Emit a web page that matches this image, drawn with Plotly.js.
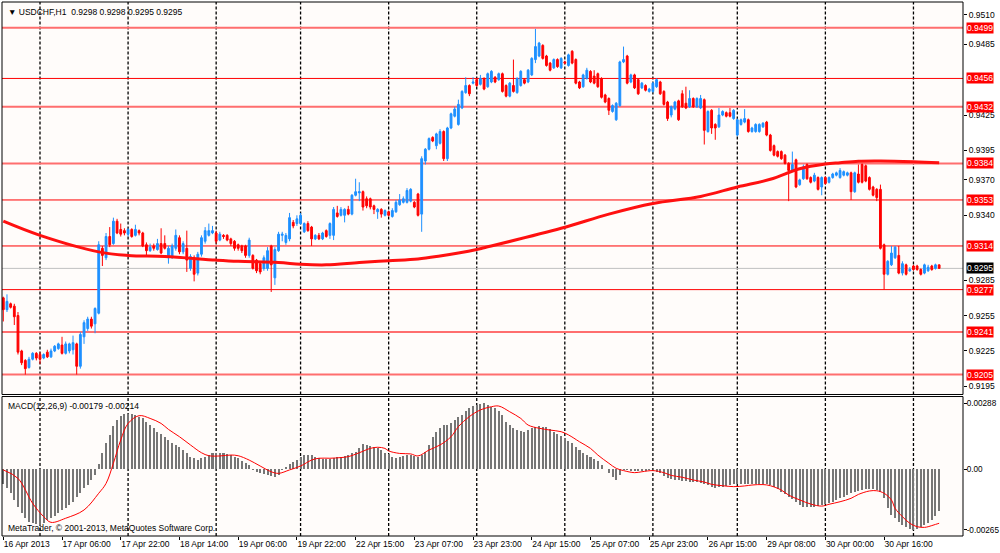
<!DOCTYPE html>
<html><head><meta charset="utf-8">
<script src="https://cdn.plot.ly/plotly-3.0.1.min.js"></script>
<style>html,body{margin:0;padding:0;background:#fff}#chart{width:1000px;height:553px}</style>
</head><body><div id="chart"></div>
<script>
// ---- price data (pips, /10000) bar index 0..255, H1 bars from 16 Apr 2013 14:00
const openP = [9270,9260,9265,9263,9255,9225,9217,9211,9218,9223,9222,9219,9224,9220,9225,9227,9230,9223,9225,9226,
9231,9212,9237,9244,9252,9248,9257,9312,9304,9322,9316,9335,9328,9327,9324,9328,9323,9327,9325,9315,
9310,9314,9311,9316,9316,9304,9305,9312,9321,9309,9312,9295,9304,9291,9307,9318,9323,9325,9325,9319,
9323,9323,9320,9318,9315,9314,9314,9306,9306,9302,9299,9295,9295,9314,9287,9310,9323,9317,9320,9334,
9333,9333,9326,9333,9330,9320,9323,9320,9327,9323,9323,9342,9340,9340,9345,9341,9357,9359,9360,9354,
9354,9348,9343,9345,9340,9343,9339,9343,9349,9351,9351,9352,9351,9358,9341,9386,9396,9406,9399,9401,
9411,9388,9414,9424,9417,9431,9444,9450,9452,9455,9451,9456,9449,9453,9457,9455,9460,9450,9441,9450,
9444,9450,9455,9453,9459,9472,9475,9484,9475,9469,9465,9472,9465,9470,9467,9479,9472,9453,9449,9456,
9462,9458,9460,9456,9442,9439,9428,9421,9433,9470,9475,9453,9459,9455,9448,9450,9445,9445,9449,9453,
9445,9436,9425,9430,9437,9443,9435,9432,9439,9432,9431,9438,9411,9429,9417,9415,9425,9427,9427,9422,
9408,9417,9419,9421,9411,9411,9411,9415,9419,9408,9399,9394,9394,9391,9384,9378,9387,9366,9371,9383,
9372,9369,9372,9364,9372,9368,9372,9374,9372,9374,9374,9376,9360,9375,9383,9382,9372,9364,9362,9362,
9315,9290,9298,9304,9306,9291,9298,9293,9297,9297,9294,9291,9293,9297,9295,9298];
const highP = [9271,9273,9266,9265,9258,9226,9218,9220,9224,9224,9224,9223,9226,9227,9230,9232,9237,9233,9232,9238,
9232,9241,9251,9254,9254,9262,9318,9314,9325,9330,9338,9337,9333,9329,9329,9329,9332,9328,9326,9317,
9316,9316,9320,9329,9323,9314,9316,9328,9323,9318,9327,9307,9306,9309,9323,9330,9333,9331,9327,9326,
9324,9324,9321,9319,9316,9315,9315,9321,9307,9303,9300,9306,9313,9315,9313,9326,9326,9325,9342,9336,
9340,9342,9334,9335,9331,9324,9325,9326,9328,9334,9347,9348,9347,9346,9348,9358,9371,9368,9361,9356,
9355,9349,9346,9346,9345,9344,9346,9353,9358,9356,9363,9363,9352,9359,9390,9397,9406,9407,9410,9413,
9412,9415,9427,9432,9438,9446,9457,9451,9457,9456,9459,9457,9461,9463,9458,9461,9461,9451,9453,9472,
9457,9463,9456,9464,9474,9498,9487,9485,9476,9470,9473,9473,9474,9471,9477,9480,9473,9454,9460,9465,
9463,9463,9461,9457,9443,9440,9434,9436,9471,9483,9476,9460,9460,9456,9453,9451,9448,9453,9456,9454,
9446,9437,9433,9437,9438,9446,9449,9446,9440,9440,9442,9439,9429,9430,9418,9431,9429,9428,9431,9430,
9422,9422,9430,9422,9415,9418,9418,9419,9420,9409,9400,9395,9395,9392,9385,9394,9388,9371,9383,9384,
9373,9376,9373,9373,9373,9373,9376,9377,9380,9378,9377,9377,9377,9383,9384,9383,9373,9365,9363,9366,
9316,9302,9314,9314,9314,9301,9299,9296,9298,9298,9295,9299,9298,9298,9299,9298];
const lowP = [9250,9258,9261,9247,9222,9213,9205,9210,9217,9217,9214,9218,9219,9219,9224,9226,9222,9222,9223,9222,
9205,9210,9231,9242,9244,9240,9256,9297,9302,9313,9315,9324,9322,9323,9322,9321,9322,9323,9313,9306,
9309,9310,9310,9307,9311,9299,9303,9310,9307,9307,9292,9293,9284,9289,9305,9316,9322,9324,9316,9318,
9320,9318,9314,9310,9310,9308,9304,9304,9294,9291,9290,9293,9293,9275,9281,9309,9318,9315,9318,9329,
9331,9332,9325,9326,9314,9319,9319,9319,9321,9320,9319,9338,9339,9334,9340,9340,9356,9352,9344,9346,
9345,9341,9337,9338,9339,9339,9338,9342,9348,9350,9350,9351,9346,9339,9326,9383,9395,9402,9396,9400,
9386,9386,9413,9423,9416,9430,9443,9441,9451,9449,9450,9446,9448,9452,9452,9454,9444,9440,9440,9444,
9443,9449,9451,9452,9458,9469,9474,9472,9466,9462,9464,9465,9464,9468,9466,9468,9451,9447,9448,9455,
9452,9451,9448,9439,9435,9425,9427,9420,9432,9469,9451,9452,9447,9442,9447,9445,9444,9444,9448,9442,
9433,9420,9423,9429,9420,9431,9430,9431,9431,9431,9430,9400,9410,9409,9404,9414,9424,9423,9423,9421,
9407,9416,9418,9410,9410,9410,9410,9414,9407,9394,9390,9389,9387,9383,9352,9377,9363,9365,9370,9370,
9367,9368,9361,9357,9366,9367,9371,9373,9371,9373,9373,9353,9359,9367,9367,9368,9361,9356,9352,9311,
9277,9289,9297,9303,9290,9289,9289,9292,9293,9293,9289,9290,9292,9293,9294,9295];
const closeP = [9260,9267,9262,9254,9224,9215,9210,9218,9223,9219,9218,9222,9220,9225,9229,9231,9223,9231,9231,9232,
9212,9239,9249,9252,9246,9261,9315,9306,9322,9315,9335,9325,9324,9325,9328,9322,9328,9325,9314,9310,
9313,9312,9316,9308,9312,9312,9314,9323,9309,9316,9302,9305,9290,9307,9321,9327,9327,9327,9318,9324,
9322,9319,9316,9312,9312,9310,9306,9319,9295,9293,9292,9304,9310,9298,9311,9324,9324,9323,9338,9331,
9337,9340,9333,9327,9320,9323,9320,9325,9322,9333,9345,9339,9345,9345,9341,9357,9360,9360,9347,9348,
9347,9345,9345,9341,9344,9340,9344,9351,9353,9354,9361,9362,9347,9340,9388,9396,9405,9403,9409,9411,
9388,9414,9426,9430,9434,9445,9450,9443,9453,9450,9456,9447,9460,9462,9453,9460,9445,9441,9452,9445,
9456,9462,9452,9463,9473,9483,9486,9473,9467,9463,9472,9466,9473,9469,9476,9469,9452,9448,9459,9463,
9453,9452,9449,9440,9436,9429,9433,9435,9470,9472,9452,9459,9448,9443,9452,9446,9447,9452,9455,9443,
9434,9422,9432,9436,9421,9432,9431,9439,9432,9439,9439,9412,9428,9414,9414,9425,9428,9424,9424,9429,
9421,9421,9422,9411,9414,9417,9417,9418,9408,9395,9391,9390,9388,9384,9378,9383,9364,9370,9381,9371,
9368,9374,9362,9372,9367,9372,9375,9376,9378,9377,9376,9360,9376,9368,9368,9369,9362,9357,9355,9312,
9290,9301,9308,9313,9291,9299,9290,9294,9294,9294,9290,9298,9296,9294,9298,9295];

// moving average (read at sample bars)
const maX = [0,10,26,34,44,58,64,75,81,88,97,105,113,119,124,129,131,152,165,177,190,200,209,217,224,228,233,239,248,255];
const maV = [9335,9323,9309,9306,9305,9302,9301,9300,9298.5,9298,9300,9301.5,9303,9305.5,9308,9311,9312.5,9329,9341,9350,9356,9364,9370.5,9379.5,9383.5,9384.6,9385.8,9386,9385.4,9384.6];

// MACD histogram (units of 0.00001)
const macdHist = [-66,-84,-106,-135,-165,-194,-215,-230,-237,-242,
-243,-237,-223,-215,-205,-194,-179,-172,-157,-143,
-121,-106,-84,-70,-48,-26,22,68,112,149,
188,214,231,240,240,240,236,229,221,207,
192,178,163,153,141,127,112,105,95,83,
68,54,47,39,47,54,61,68,68,68,
68,66,61,54,47,36,25,17,-4,-12,
-19,-22,-26,-31,-36,-26,-4,10,22,32,
39,54,61,61,61,54,47,44,42,44,
47,51,54,57,61,68,76,90,109,105,
100,98,90,83,71,66,54,50,54,58,
60,61,58,54,61,76,105,141,163,178,
192,192,199,214,226,236,255,265,275,280,
284,288,280,272,265,255,236,207,192,178,
170,167,163,170,178,185,188,185,182,173,
163,153,144,134,124,112,98,83,68,61,
54,44,36,17,-1,-19,-36,-48,-26,-4,
-4,-7,-9,-10,-10,-9,-4,-1,-12,-19,
-31,-41,-45,-48,-48,-51,-51,-55,-55,-55,
-60,-66,-70,-80,-84,-80,-77,-73,-70,-66,
-66,-66,-66,-66,-66,-66,-66,-66,-67,-70,
-77,-89,-99,-109,-121,-132,-143,-157,-165,-165,
-167,-167,-162,-157,-153,-147,-143,-135,-128,-121,
-114,-106,-99,-95,-92,-89,-89,-89,-92,-99,
-128,-172,-201,-215,-230,-245,-255,-262,-265,-263,
-252,-245,-237,-222,-205,-185];
// MACD signal (read at sample bars, units of 0.00001)
const sigX = [0,4,8,11,13,17,22,26,28,30,32,34,37,40,43,45,48,51,54,56,59,62,64,67,70,73,75,78,81,84,86,89,92,94,97,100,102,104,105,108,111,113,116,119,122,124,127,130,133,135,138,141,143,146,149,152,154,157,160,162,165,167,169,172,174,177,180,182,185,188,191,193,196,199,202,204,207,209,212,214,217,220,223,225,228,231,233,236,238,240,242,243,245,247,249,251,252,254,255];
const sigV = [-4,-41,-150,-208,-233,-215,-179,-106,-63,25,127,199,233,221,199,173,141,105,71,58,57,61,58,39,13,-12,-19,-4,13,39,47,47,50,54,71,90,95,90,79,68,66,57,83,105,141,185,229,258,272,275,250,221,192,178,170,163,149,119,90,61,25,3,-7,-16,-12,-7,-16,-28,-36,-48,-57,-67,-73,-77,-74,-70,-68,-73,-92,-114,-135,-153,-162,-154,-143,-128,-111,-96,-95,-106,-135,-172,-208,-237,-252,-255,-252,-242,-237];

// levels and axis labels
const levels = [0.9499,0.9456,0.9432,0.9384,0.9353,0.9314,0.9277,0.9241,0.9205];
const priceTicks = [0.9510,0.9485,0.9425,0.9395,0.9370,0.9340,0.9285,0.9255,0.9225,0.9195];
const macdTicks = [0.00288,0,-0.00265];
const macdTickText = ['0.00288','0.00','-0.00265'];
const timeLabels = ['16 Apr 2013','17 Apr 06:00','17 Apr 22:00','18 Apr 14:00','19 Apr 06:00','19 Apr 22:00','22 Apr 15:00','23 Apr 07:00','23 Apr 23:00','24 Apr 15:00','25 Apr 07:00','25 Apr 23:00','26 Apr 15:00','29 Apr 08:00','30 Apr 00:00','30 Apr 16:00'];
const timeLabelBars = [0,16,32,48,64,80,96,112,128,144,160,176,192,208,224,240];
const dayStartBars = [10,34,58,81,105,129,153,177,200,224,248];
const titleText = 'USDCHF,H1\u00a0 0.9298 0.9298 0.9295 0.9295';
const macdText = 'MACD(12,26,9) -0.00179 -0.00214';
const footerText = 'MetaTrader, \u00a9 2001-2013, MetaQuotes Software Corp.';

// ---- build
const idx = closeP.map((_, i) => i);
const P = v => v / 10000;
const M = v => v * 1e-5;
const FONT = 'Liberation Sans, Arial, sans-serif';
const priceDom = [0.265, 1], macdDom = [0, 0.2612];
const thickLevels = new Set([0.9499, 0.9432, 0.9384, 0.9241, 0.9205]);
const lastClose = P(closeP[closeP.length - 1]);

const traces = [
  {type:'candlestick', x: idx, open: openP.map(P), high: highP.map(P), low: lowP.map(P), close: closeP.map(P),
   xaxis:'x', yaxis:'y', whiskerwidth: 0, hoverinfo:'skip',
   increasing:{line:{color:'#1e90ff', width:1}, fillcolor:'#1e90ff'},
   decreasing:{line:{color:'#ff0000', width:1}, fillcolor:'#ff0000'}},
  {type:'scatter', mode:'lines', x: maX, y: maV.map(P), xaxis:'x', yaxis:'y', hoverinfo:'skip',
   line:{color:'#ff1010', width:3, shape:'spline'}},
  {type:'bar', x: idx, y: macdHist.map(M), xaxis:'x', yaxis:'y2', width: 0.55, hoverinfo:'skip',
   marker:{color:'#767676', line:{width:0}}},
  {type:'scatter', mode:'lines', x: sigX, y: sigV.map(M), xaxis:'x', yaxis:'y2', hoverinfo:'skip',
   line:{color:'#ff0000', width:1, shape:'spline'}}
];

const shapes = [];
dayStartBars.forEach(b => {
  shapes.push({type:'line', xref:'x', yref:'paper', x0:b, x1:b, y0:priceDom[0], y1:1, layer:'below', line:{color:'#000', width:1.3, dash:'3px,2px'}});
  shapes.push({type:'line', xref:'x', yref:'paper', x0:b, x1:b, y0:0, y1:macdDom[1], layer:'below', line:{color:'#000', width:1.3, dash:'3px,2px'}});
});
levels.forEach(l => {
  const thick = thickLevels.has(l);
  shapes.push({type:'line', xref:'paper', yref:'y', x0:0, x1:1, y0:l, y1:l, layer:'below',
    line:{color: thick ? '#ff6e6e' : '#ff0000', width: thick ? 2 : 1}});
});
shapes.push({type:'line', xref:'paper', yref:'y', x0:0, x1:1, y0:lastClose, y1:lastClose, layer:'below', line:{color:'#c0c0c0', width:1}});
shapes.push({type:'rect', xref:'paper', yref:'paper', x0:0, x1:1, y0:priceDom[0], y1:1, layer:'above', line:{color:'#000', width:1}});
shapes.push({type:'rect', xref:'paper', yref:'paper', x0:0, x1:1, y0:0, y1:macdDom[1], layer:'above', line:{color:'#000', width:1}});

const annotations = [];
levels.forEach(l => annotations.push({xref:'paper', yref:'y', x:1, y:l, xanchor:'left', yanchor:'middle', xshift:3,
  text: l.toFixed(4), showarrow:false, bgcolor:'#ff0000', borderpad:0, font:{family:FONT, size:8.5, color:'#fff'}}));
annotations.push({xref:'paper', yref:'y', x:1, y:lastClose, xanchor:'left', yanchor:'middle', xshift:3,
  text: lastClose.toFixed(4), showarrow:false, bgcolor:'#000', borderpad:0, font:{family:FONT, size:8.5, color:'#fff'}});
annotations.push({xref:'paper', yref:'paper', x:0, y:1, xanchor:'left', yanchor:'top', xshift:4, yshift:-3,
  text: '\u25bc ' + titleText, showarrow:false, font:{family:FONT, size:8.5, color:'#000'}});
annotations.push({xref:'paper', yref:'paper', x:0, y:macdDom[1], xanchor:'left', yanchor:'top', xshift:4, yshift:-2,
  text: macdText, showarrow:false, font:{family:FONT, size:8.5, color:'#000'}});
annotations.push({xref:'paper', yref:'paper', x:0, y:0, xanchor:'left', yanchor:'bottom', xshift:4, yshift:1,
  text: footerText, showarrow:false, font:{family:FONT, size:8.5, color:'#000'}});

const tickFont = {family:FONT, size:8.5, color:'#000'};
const layout = {
  width:1000, height:553, margin:{l:2, r:37, t:2, b:17},
  paper_bgcolor:'#ffffff', plot_bgcolor:'#fffcfa', showlegend:false, dragmode:false,
  xaxis:{domain:[0,1], anchor:'y2', range:[-0.354, 261.5], rangeslider:{visible:false},
    tickmode:'array', tickvals: timeLabelBars, ticktext: timeLabels, ticks:'outside', ticklen:3, tickcolor:'#000',
    ticklabelposition:'outside right', tickfont: tickFont, showgrid:false, zeroline:false, showline:false, fixedrange:true},
  yaxis:{domain: priceDom, anchor:'x', side:'right', range:[0.91881, 0.95208], tickmode:'array',
    tickvals: priceTicks, ticktext: priceTicks.map(v => v.toFixed(4)), ticks:'outside', ticklen:3, tickcolor:'#000',
    tickfont: tickFont, showgrid:false, zeroline:false, showline:false, fixedrange:true},
  yaxis2:{domain: macdDom, anchor:'x', side:'right', range:[-0.002926, 0.003166], tickmode:'array',
    tickvals: macdTicks, ticktext: macdTickText, ticks:'outside', ticklen:3, tickcolor:'#000',
    ticklabelstandoff:-2, tickfont: {family:FONT, size:8.2, color:'#000'}, showgrid:false, zeroline:false, showline:false, fixedrange:true},
  shapes: shapes, annotations: annotations, bargap:0
};
Plotly.newPlot('chart', traces, layout, {displayModeBar:false, staticPlot:true});
</script></body></html>
